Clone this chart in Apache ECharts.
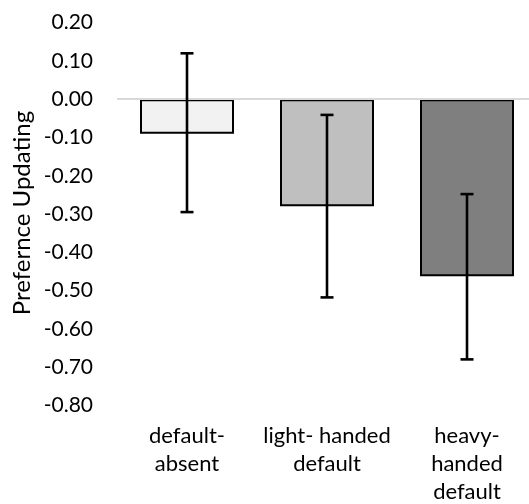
<!DOCTYPE html>
<html><head><meta charset="utf-8">
<script src="https://cdn.jsdelivr.net/npm/echarts@6/dist/echarts.min.js"></script>
<style>html,body{margin:0;padding:0;background:#fff}#c{width:529px;height:504px}</style>
</head><body><div id="c"></div>
<script>
const categories = ['default-\nabsent', 'light- handed\ndefault', 'heavy-\nhanded\ndefault'];
const means = [-0.09, -0.28, -0.463];
const errLow = [-0.295, -0.518, -0.68];
const errHigh = [0.12, -0.041, -0.248];
const barColors = ['#f2f2f2', '#bfbfbf', '#7f7f7f'];
const yTicks = { min: -0.8, max: 0.2, interval: 0.1 };
const yTitle = 'Prefernce Updating';

const FONT = 'Lato';
const FS = 21;
const chart = echarts.init(document.getElementById('c'), null, { renderer: 'canvas' });
chart.setOption({
  animation: false,
  backgroundColor: '#fff',
  grid: { left: 117, right: -8, top: 22.7, bottom: 98.7, containLabel: false, outerBoundsMode: 'none' },
  xAxis: {
    type: 'category', data: categories, position: 'top',
    axisLine: { show: false }, axisTick: { show: false },
    axisLabel: { show: false }
  },
  yAxis: {
    type: 'value', min: yTicks.min, max: yTicks.max, interval: yTicks.interval,
    axisLine: { show: false }, axisTick: { show: false }, splitLine: { show: false },
    axisLabel: { formatter: v => v.toFixed(2), color: '#000', fontFamily: FONT, fontSize: FS, margin: 24 }
  },
  graphic: [{
    type: 'text', x: 22, y: 213, rotation: Math.PI / 2,
    style: { text: yTitle, fill: '#000', fontFamily: FONT, fontSize: 24, align: 'center', verticalAlign: 'middle' }
  }],
  series: [
    {
      type: 'bar', barWidth: 94,
      data: means.map((v, i) => ({ value: v, itemStyle: { color: barColors[i] } })),
      itemStyle: { borderColor: '#000', borderWidth: 2 },
      markLine: {
        silent: true, symbol: 'none', label: { show: false },
        lineStyle: { color: '#d9d9d9', width: 2, type: 'solid' },
        data: [{ yAxis: 0 }]
      }
    },
    {
      type: 'custom',
      data: means.map((v, i) => [i, errLow[i], errHigh[i]]),
      renderItem: function (params, api) {
        const x = api.coord([api.value(0), 0])[0];
        const lo = api.coord([api.value(0), api.value(1)])[1];
        const hi = api.coord([api.value(0), api.value(2)])[1];
        const cap = 6.5;
        const st = { stroke: '#000', lineWidth: 2.6 };
        return { type: 'group', children: [
          { type: 'line', shape: { x1: x, y1: hi, x2: x, y2: lo }, style: st },
          { type: 'line', shape: { x1: x - cap, y1: hi, x2: x + cap, y2: hi }, style: st },
          { type: 'line', shape: { x1: x - cap, y1: lo, x2: x + cap, y2: lo }, style: st }
        ]};
      },
      z: 5
    },
    {
      type: 'custom',
      data: categories.map((c, i) => [i]),
      renderItem: function (params, api) {
        const x = api.coord([api.value(0), yTicks.min])[0];
        const y = api.coord([api.value(0), yTicks.min])[1];
        return { type: 'text', x: x, y: y + 17, style: {
          text: categories[params.dataIndex], fill: '#000', fontFamily: FONT, fontSize: 22,
          align: 'center', verticalAlign: 'top', lineHeight: 28 } };
      }
    }
  ]
});
</script></body></html>
